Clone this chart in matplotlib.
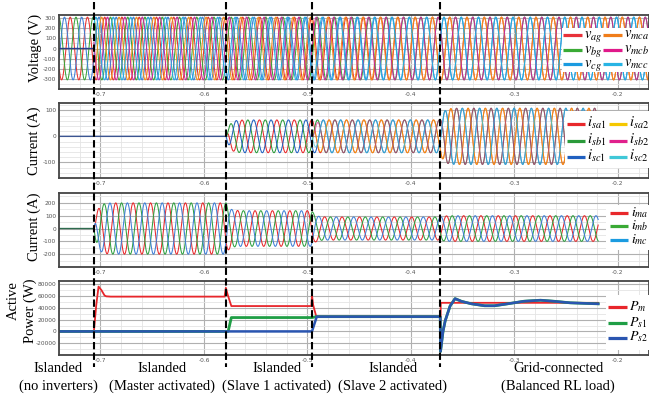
import numpy as np
import matplotlib.pyplot as plt
import matplotlib.transforms as mtransforms
from matplotlib.lines import Line2D
from matplotlib.patches import Rectangle

plt.rcParams['mathtext.fontset'] = 'stix'
plt.rcParams['font.family'] = ['DejaVu Sans']

# switching events (s)
t_master = -0.7063
t_slave1 = -0.5785
t_slave2 = -0.4956
t_grid = -0.3717
event_times = [t_master, t_slave1, t_slave2, t_grid]
t_end = -0.2191

x_min, x_max = -0.7397, -0.170
x_ticks = [-0.7, -0.6, -0.5, -0.4, -0.3, -0.2]
x_tick_labels = ['-0.7', '-0.6', '-0.5', '-0.4', '-0.3', '-0.2']

mode_labels = ['Islanded\n(no inverters)', 'Islanded\n(Master activated)',
               'Islanded\n(Slave 1 activated)', 'Islanded\n(Slave 2 activated)',
               'Grid-connected\n(Balanced RL load)']

# waveform parameters
f_grid = 60.0
v_peak = 310.0
master_phase_deg = 65.0          # master voltage phase offset at activation
i_slave1_amp = [0, 0, 63, 63, 108]   # per mode
i_slave2_amp = [0, 0, 0, 63, 108]
i_master_amp = [0, 200, 139, 90, 100]

# active power traces read from the scope (s, W)
p_m_t = [-0.7397, -0.7063, -0.7040, -0.7018, -0.6990, -0.6960, -0.6943, -0.6900,
         -0.5800, -0.5788, -0.5770, -0.5735, -0.4962, -0.4956, -0.4945, -0.4915,
         -0.3720, -0.3717, -0.3712, -0.2191]
p_m = [0, 0, 45000, 76000, 70000, 61000, 59500, 59000,
       59000, 74000, 62000, 43000, 43000, 61000, 45000, 25500,
       25500, -34000, 48500, 48500]
p_s_grid_t = [-0.3717, -0.3714, -0.3690, -0.3669, -0.3622, -0.3574, -0.3511, -0.3415,
              -0.3288, -0.3193, -0.3066, -0.2907, -0.2748, -0.2621, -0.2462, -0.2191]
p_s_grid = [25000, -34000, 0, 18000, 43000, 55600, 51000, 46800,
            43500, 43500, 46800, 51200, 52900, 51200, 48500, 46800]
p_s1_t = [-0.7397, -0.5766, -0.5735, -0.4956, -0.4915] + p_s_grid_t
p_s1 = [0, 0, 23500, 23500, 25000] + p_s_grid
p_s2_t = [-0.7397, -0.4956, -0.4910] + p_s_grid_t
p_s2 = [0, 0, 25000] + p_s_grid

t = np.arange(x_min, x_max, 2e-5)
phases = [0.0, -2 * np.pi / 3, 2 * np.pi / 3]


def envelope(amps, tau=0.003):
    env = np.full_like(t, float(amps[0]))
    for k, te in enumerate(event_times):
        on = t >= te
        env[on] += (amps[k + 1] - amps[k]) * (1 - np.exp(-(t[on] - te) / tau))
    return env


theta_g = 2 * np.pi * f_grid * t
drift = np.clip((t_grid - t) / (t_grid - t_master), 0, 1)
theta_m = theta_g + np.deg2rad(master_phase_deg) * drift

v_grid = [v_peak * np.sin(theta_g + p) for p in phases]
v_master = [np.where(t >= t_master, v_peak * np.sin(theta_m + p), 0.0) for p in phases]
env_s1 = envelope(i_slave1_amp)
env_s2 = envelope(i_slave2_amp)
env_m = envelope(i_master_amp)
i_s1 = [env_s1 * np.sin(theta_m + p - 0.4) for p in phases]
i_s2 = [env_s2 * np.sin(theta_m + p - 0.4) for p in phases]
i_m = [env_m * np.sin(theta_m + p + 1.2) for p in phases]

W, H = 649, 400
fig = plt.figure(figsize=(W / 100, H / 100), dpi=100)
px = mtransforms.Affine2D().scale(1 / W, -1 / H).translate(0, 1) + fig.transFigure
serif = 'Liberation Serif'


def add_panel(top, bottom, ylim, yticks, ystep_minor):
    ax = fig.add_axes([59 / W, 1 - bottom / H, 590 / W, (bottom - top) / H])
    ax.set_xlim(x_min, x_max)
    ax.set_ylim(*ylim)
    ax.set_xticks(x_ticks)
    ax.set_xticklabels(x_tick_labels)
    ax.set_xticks(np.arange(-0.74, -0.16, 0.02), minor=True)
    ax.set_yticks(yticks)
    ax.set_yticklabels([str(v) for v in yticks])
    ax.set_yticks(np.arange(ylim[0] - ylim[0] % ystep_minor, ylim[1], ystep_minor), minor=True)
    ax.grid(which='major', color='#b0b0b0', lw=0.8)
    ax.grid(which='minor', color='#e4e4e4', lw=0.6)
    ax.set_axisbelow(True)
    ax.tick_params(which='both', length=0, labelsize=4.2, labelcolor='#555555', pad=2)
    for s in ax.spines.values():
        s.set_color('#444444')
        s.set_linewidth(1.3)
    return ax


def draw_legend(box, handles, size=10.5):
    x0, y0, x1, y1 = box
    fig.add_artist(Rectangle((x0, y0), x1 - x0, y1 - y0, transform=px,
                             facecolor='white', edgecolor='none', zorder=6))
    for hx0, hx1, tx, y, color, label in handles:
        fig.add_artist(Line2D([hx0, hx1], [y, y], transform=px, color=color,
                              lw=2.3, solid_capstyle='butt', zorder=7))
        fig.text(tx, y + 3, label, transform=px, fontsize=size, ha='left',
                 va='baseline', zorder=8)


lw = 0.75
# voltages
ax1 = add_panel(15, 89, (-359, 331), [-300, -200, -100, 0, 100, 200, 300], 50)
for v, c in zip(v_grid, ['#e8312f', '#3aa53a', '#3f7fd6']):
    ax1.plot(t, v, color=c, lw=lw)
pre = t < t_master
ax1.plot(t[pre], v_master[0][pre], color='#2d3e86', lw=1.0)
for v, c in zip(v_master, ['#f39019', '#c8289a', '#22aee0']):
    ax1.plot(t[~pre], v[~pre], color=c, lw=lw)

# inverter currents
ax2 = add_panel(103, 178, (-148, 128), [-100, 0, 100], 20)
sel = t <= t_end
pre = t < t_slave1
ax2.plot(t[pre], i_s1[0][pre], color='#3b5591', lw=1.0)
on = sel & ~pre
for i, c in zip(i_s1, ['#e8282b', '#2a9a3a', '#2060c0']):
    ax2.plot(t[on], i[on], color=c, lw=lw)
on = sel & (t >= t_slave2)
for i, c in zip(i_s2, ['#f5c400', '#e0208c', '#40c8d8']):
    ax2.plot(t[on], i[on], color=c, lw=lw, alpha=0.65)

# master currents
ax3 = add_panel(193, 267, (-275, 277), [-200, -100, 0, 100, 200], 50)
pre = t < t_master
ax3.plot(t[pre], i_m[0][pre], color='#2e6b4e', lw=1.0)
on = sel & ~pre
for i, c in zip(i_m, ['#e8282b', '#2fa040', '#3f7fd6']):
    ax3.plot(t[on], i[on], color=c, lw=lw)

# active power
ax4 = add_panel(281, 355, (-36000, 85500), [-20000, 0, 20000, 40000, 60000, 80000], 10000)
ax4.plot(p_m_t, p_m, color='#e8262b', lw=1.3)
ax4.plot(p_s1_t, p_s1, color='#1f9e45', lw=2.0)
ax4.plot(p_s2_t, p_s2, color='#2a55b0', lw=1.8)

# y labels
ylab = dict(transform=px, rotation=90, ha='center', va='center', family=serif, fontsize=10.5)
fig.text(35, 48, 'Voltage (V)', **ylab)
fig.text(34, 141, 'Current (A)', **ylab)
fig.text(34, 227, 'Current (A)', **ylab)
fig.text(13, 301, 'Active', **ylab)
fig.text(30, 311, 'Power (W)', **ylab)

# legends
draw_legend((562, 28, 649, 72), [
    (563, 582, 584, 34.7, '#e8313a', r'$v_{ag}$'),
    (563, 582, 584, 50, '#3aaa35', r'$v_{bg}$'),
    (563, 582, 584, 64, '#1b9be0', r'$v_{cg}$'),
    (603, 622, 624, 34.7, '#f07d1a', r'$v_{mca}$'),
    (603, 622, 624, 50, '#e0198a', r'$v_{mcb}$'),
    (603, 622, 624, 64, '#28b4e4', r'$v_{mcc}$')])
draw_legend((565, 111, 649, 168), [
    (567, 585, 587, 124, '#e8282b', r'$i_{sa1}$'),
    (567, 585, 587, 141, '#2a9a3a', r'$i_{sb1}$'),
    (567, 585, 587, 157, '#2060c0', r'$i_{sc1}$'),
    (609, 627, 629, 124, '#f5c800', r'$i_{sa2}$'),
    (609, 627, 629, 141, '#e0208c', r'$i_{sb2}$'),
    (609, 627, 629, 157, '#40c8d8', r'$i_{sc2}$')])
draw_legend((606, 205, 649, 250), [
    (610, 628, 631, 212.7, '#e8282b', r'$i_{ma}$'),
    (610, 628, 631, 226, '#3aaa35', r'$i_{mb}$'),
    (610, 628, 631, 240, '#1b9be0', r'$i_{mc}$')], size=10)
draw_legend((606, 295, 649, 350), [
    (608, 627, 629, 306.7, '#e8262b', r'$P_m$'),
    (608, 627, 629, 323.3, '#1f9e45', r'$P_{s1}$'),
    (608, 627, 629, 337.7, '#2a55b0', r'$P_{s2}$')], size=10)

# event markers
blend = mtransforms.blended_transform_factory(ax1.transData, px)
for te in event_times:
    fig.add_artist(Line2D([te, te], [2, 367], transform=blend, color='black', lw=1.5,
                          ls=(0, (3.5, 1.6)), zorder=5))

# mode labels under the time axis
label_x = [58, 162, 277, 393, 558]
for x, lab in zip(label_x, mode_labels):
    first, second = lab.split('\n')
    fig.text(x, 368, first, transform=px, ha='center', va='center', family=serif, fontsize=10.5)
    fig.text(x, 386, second, transform=px, ha='center', va='center', family=serif, fontsize=10.5)

fig.savefig('out.png', dpi=100)
